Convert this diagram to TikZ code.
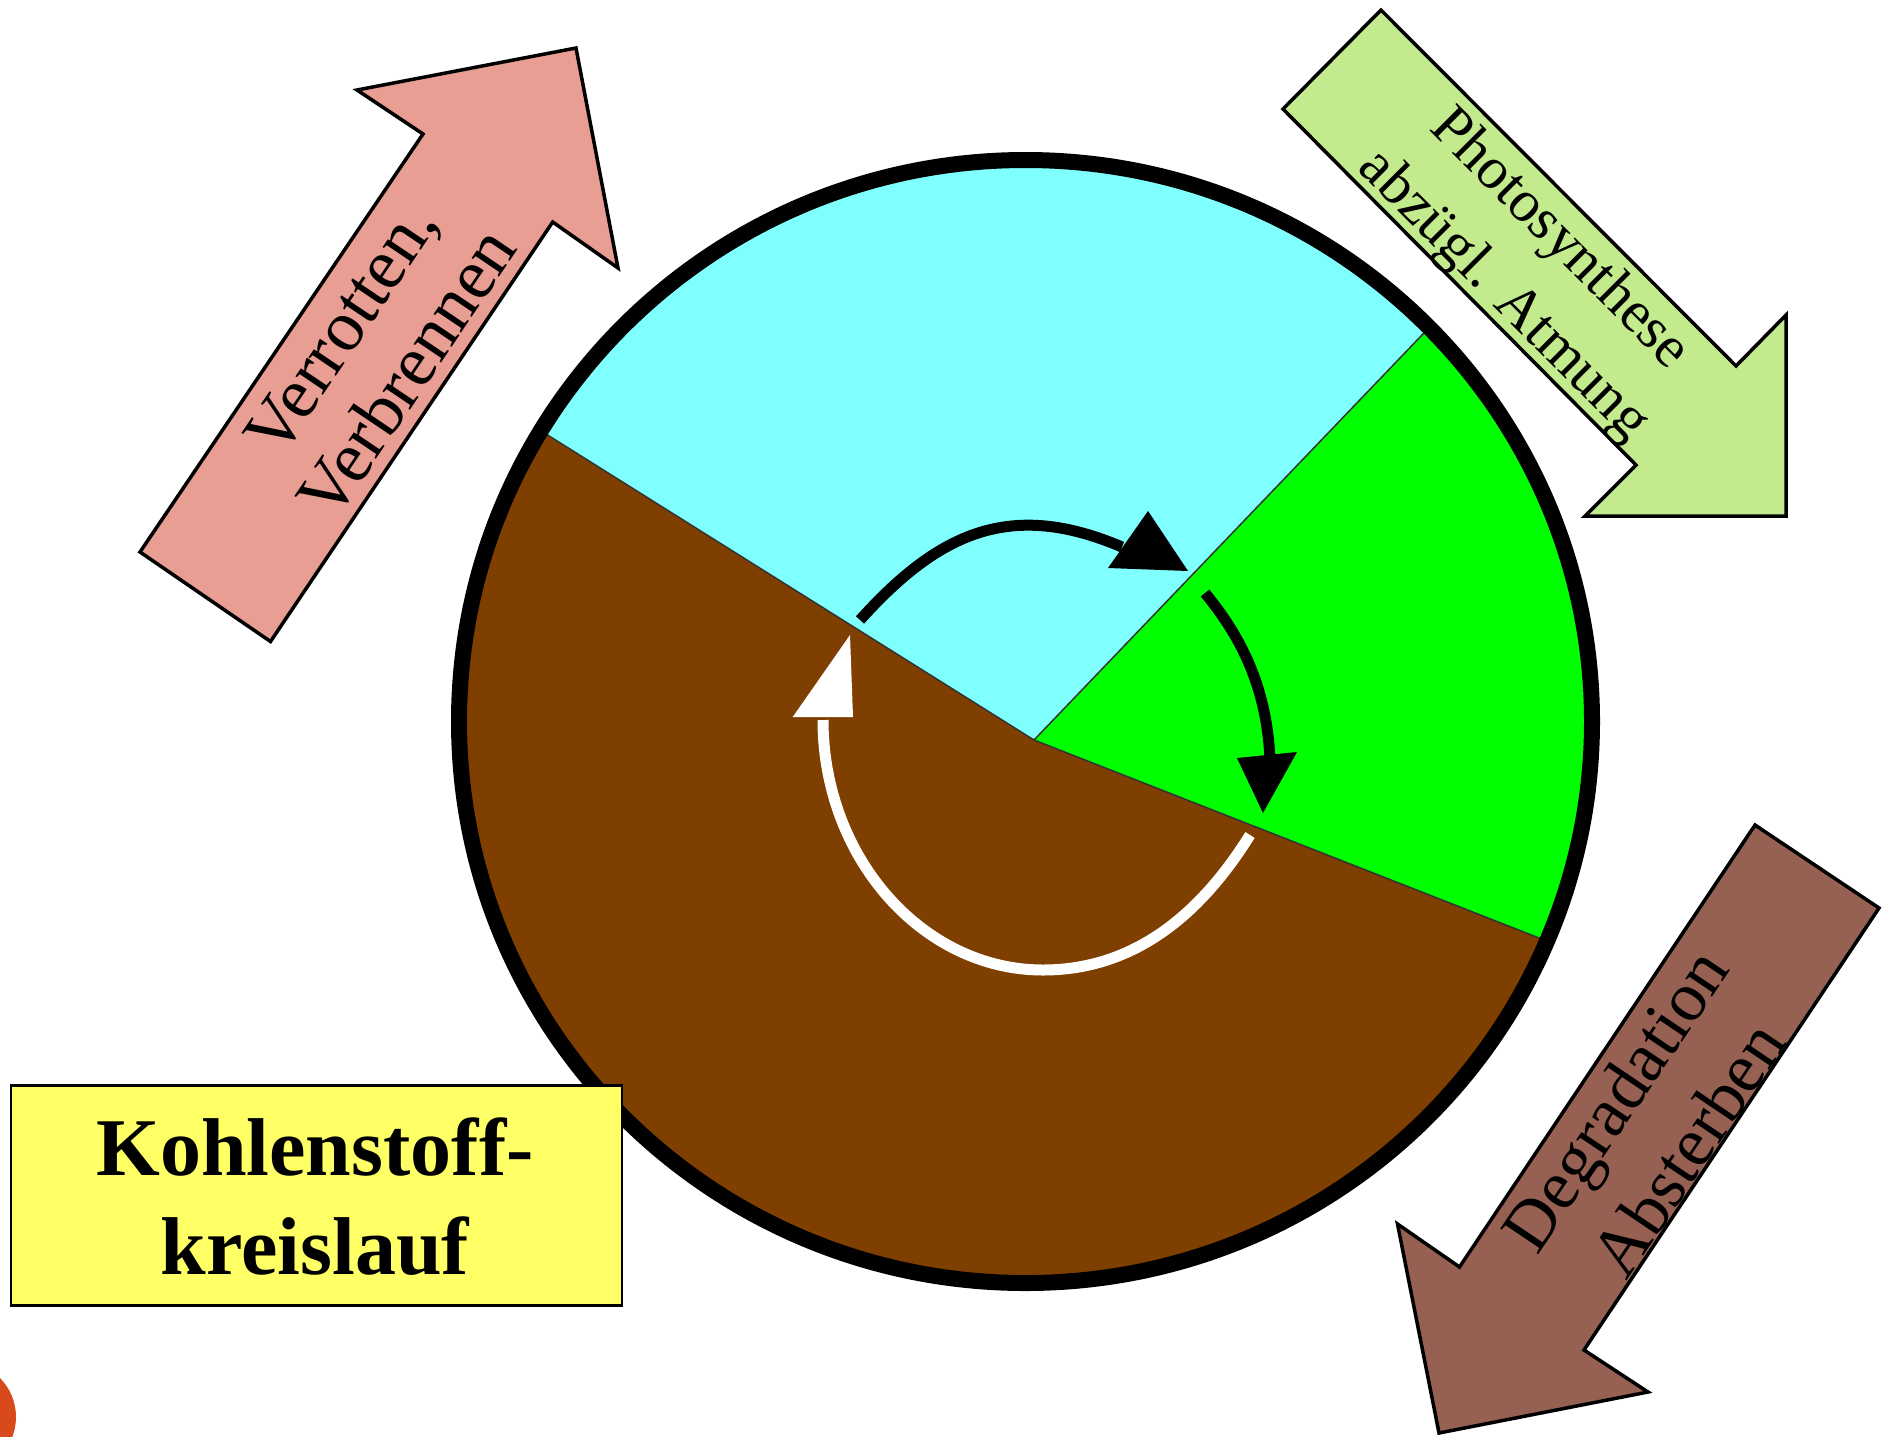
\documentclass[tikz,border=0pt]{standalone}
\usepackage{fontspec}
\setmainfont{Liberation Serif}
\definecolor{pinkfill}{HTML}{E99E94}
\definecolor{greenfill}{HTML}{C4EA8E}
\definecolor{brownfill}{HTML}{966152}
\definecolor{yellowfill}{HTML}{FFFF66}
\definecolor{orangeblob}{HTML}{D84A1B}
\definecolor{water}{HTML}{80FFFF}
\definecolor{plant}{HTML}{00FF00}
\definecolor{soil}{HTML}{7F3F00}
\begin{document}
\begin{tikzpicture}[x=1pt,y=-1pt,
  bigarrow/.style={draw=black,line width=3.5pt,line join=miter},
  flowblack/.style={draw=black,line width=11pt},
  flowwhite/.style={draw=white,line width=11pt},
  lbl/.style={inner sep=0pt,anchor=center,align=center},
  boxstyle/.style={draw=black,fill=yellowfill,line width=2.5pt,inner sep=0pt,anchor=north west,minimum width=611pt,minimum height=220pt}]
\useasboundingbox (0,0) rectangle (1890,1436);
% orange blob at the corner
\begin{scope}
\clip (0,0) rectangle (1890,1436);
\fill[orangeblob] (-39.5,1417) circle (55.5);
\end{scope}
% disk
\coordinate (C) at (1025.5,721.5);
\coordinate (V) at (1034,740);
\coordinate (RB) at (58,128);
\coordinate (RG) at (1810,-70);
\coordinate (RS) at (2044,1136);
\begin{scope}
\clip (C) ellipse [x radius=559, y radius=554];
\fill[soil] (C) ellipse [x radius=565, y radius=560];
\fill[water] (V) -- (RB) -- (58,-300) -- (1810,-300) -- (RG) -- cycle;
\fill[plant] (V) -- (RG) -- (2200,-70) -- (2200,1136) -- (RS) -- cycle;
\draw[line width=1.5pt,black!80] (RB) -- (V) -- (RG);
\draw[line width=1.5pt,black!80] (V) -- (RS);
\end{scope}
\draw[line width=16pt] (C) ellipse [x radius=566.5, y radius=561.5];
% inner cycle arrows
\coordinate (a1s) at (860,620);
\coordinate (a1e) at (1122,547);
\draw[flowblack] (a1s) .. controls (940,531) and (1012,500) .. (a1e);
\fill[black] (1148,511) -- (1188,571) -- (1108,568) -- cycle;
\coordinate (a2s) at (1205,593);
\coordinate (a2e) at (1270,760);
\draw[flowblack] (a2s) .. controls (1243,639) and (1267,690) .. (a2e);
\fill[black] (1237,758) -- (1297,752) -- (1263,813) -- cycle;
\coordinate (a3s) at (1250,835);
\coordinate (a3m) at (1043,970);
\coordinate (a3e) at (823,720);
\draw[flowwhite] (a3s) .. controls (1207.6,903) and (1143,970) .. (a3m) .. controls (922,970) and (823,857) .. (a3e);
\fill[white] (792.7,717) -- (853,717) -- (850,635) -- cycle;
% big arrows
\draw[bigarrow,fill=pinkfill] (140,552) -- (423,134) -- (357,90) -- (576,48) -- (618,268) -- (552.7,222) -- (270.5,641.5) -- cycle;
\draw[bigarrow,fill=greenfill] (1381,10) -- (1736,366) -- (1786,315) -- (1786,516) -- (1585,516) -- (1636,465) -- (1283,109) -- cycle;
\draw[bigarrow,fill=brownfill] (1755,825) -- (1879,908) -- (1584,1350) -- (1648,1392) -- (1439,1433) -- (1397.5,1224) -- (1459.5,1267) -- cycle;
% labels
\node[lbl,rotate=56,font=\fontsize{72}{80}\selectfont] (verr) at (374,351) {Verrotten,\\Verbrennen};
\node[lbl,rotate=-45,font=\fontsize{59}{79}\selectfont] (phot) at (1531,268) {Photosynthese\\abzügl. Atmung};
\node[lbl,rotate=56,font=\fontsize{70}{88}\selectfont] (degr) at (1651,1124) {Degradation\\Absterben};
% title box
\node[boxstyle] (box) at (9.6,1084) {};
\node[anchor=base,inner sep=0pt,align=center,font=\bfseries\fontsize{82}{99}\selectfont] (title) at (315,1274) {Kohlenstoff-\\kreislauf};
\end{tikzpicture}
\end{document}
